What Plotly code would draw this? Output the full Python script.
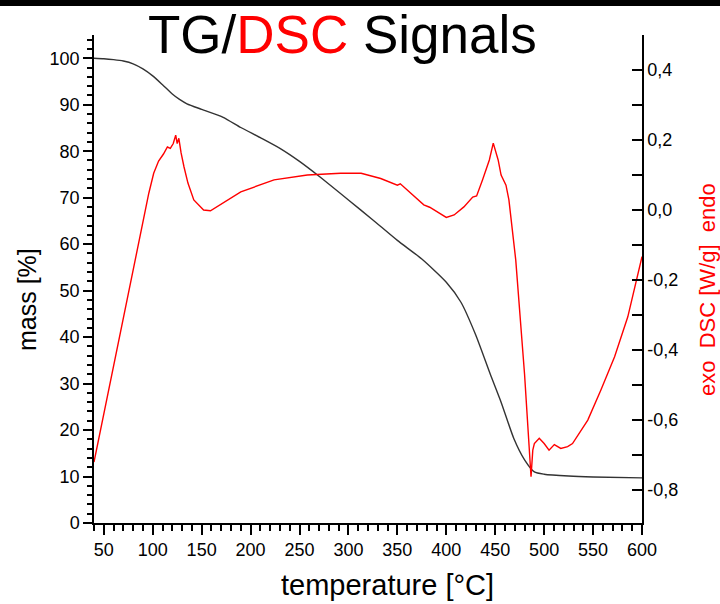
import plotly.graph_objects as go

# ---- data ----
tg_temp = [40, 50, 60, 70, 80, 90, 100, 110, 120, 127, 135, 150, 172, 190, 210, 230,
           250, 270, 300, 325, 350, 375, 400, 415, 430, 445, 456, 469, 480, 490, 500,
           525, 550, 600]
tg_mass = [100, 99.9, 99.7, 99.4, 98.8, 97.7, 96.2, 94.3, 92.3, 91.2, 90.2, 89.0, 87.3,
           85.1, 82.9, 80.6, 77.8, 74.6, 69.5, 65.2, 60.8, 56.8, 51.8, 47.5, 40.5, 32.0,
           26.0, 18.2, 13.6, 11.0, 10.5, 10.1, 9.9, 9.7]

dsc_temp = [40, 96, 101, 106, 111, 115, 118, 121, 123.5, 125, 126.7, 129, 132, 136, 142,
            152, 159, 173, 190, 224, 258, 292, 313, 333, 350, 353, 365, 377, 383, 395,
            400, 408, 418, 427, 431, 437, 444, 448, 453, 456, 461, 464, 471, 480, 485,
            486.6, 488.4, 490, 495, 500, 505, 510.4, 517, 524, 529, 536, 544.6, 558, 572,
            585.5, 600]
dsc_val = [-0.72, 0.048, 0.105, 0.14, 0.16, 0.18, 0.176, 0.19, 0.214, 0.19, 0.205, 0.163,
           0.123, 0.077, 0.029, 0.0, -0.002, 0.023, 0.052, 0.086, 0.1, 0.105, 0.105, 0.09,
           0.071, 0.075, 0.045, 0.015, 0.008, -0.014, -0.021, -0.014, 0.009, 0.037, 0.04,
           0.086, 0.143, 0.191, 0.143, 0.1, 0.071, 0.029, -0.143, -0.47, -0.69, -0.762,
           -0.686, -0.667, -0.652, -0.667, -0.686, -0.67, -0.681, -0.676, -0.667, -0.638,
           -0.6, -0.514, -0.419, -0.305, -0.133]

x_ticks = list(range(50, 601, 50))
y_ticks = list(range(0, 101, 10))
y2_ticks = [-0.8, -0.6, -0.4, -0.2, 0.0, 0.2, 0.4]
y2_labels = [f"{v:.1f}".replace(".", ",") for v in y2_ticks]

FONT = "Liberation Sans, Arial, sans-serif"

fig = go.Figure()
fig.add_trace(go.Scatter(x=tg_temp, y=tg_mass, mode="lines", line_shape="spline",
                         line=dict(color="#333333", width=1.4, smoothing=0.6), yaxis="y",
                         showlegend=False))
fig.add_trace(go.Scatter(x=dsc_temp, y=dsc_val, mode="lines",
                         line=dict(color="#ff0000", width=1.4), yaxis="y2",
                         showlegend=False))

L, R, T, B = 94, 78, 35, 81
W, H = 720, 604
pw, ph = W - L - R, H - T - B

def px(xp):
    return (xp - L) / pw

def py(yp):
    return (H - B - yp) / ph

fig.update_layout(
    width=W, height=H,
    margin=dict(l=L, r=R, t=T, b=B, pad=0),
    paper_bgcolor="white", plot_bgcolor="white",
    separators=",.",
    font=dict(family=FONT, size=18, color="black"),
    xaxis=dict(range=[40, 600], tickvals=x_ticks, ticks="outside", ticklen=10,
               tickwidth=1.5, tickcolor="black", showline=True, linecolor="black",
               linewidth=1.5, showgrid=False, zeroline=False,
               tickfont=dict(size=18, family=FONT),
               minor=dict(tick0=0, dtick=10, ticks="outside", ticklen=6,
                          tickwidth=1.5, tickcolor="black")),
    yaxis=dict(range=[0, 105], tickvals=y_ticks, ticks="outside", ticklen=9,
               tickwidth=1.5, tickcolor="black", showline=True, linecolor="black",
               linewidth=1.5, showgrid=False, zeroline=False,
               tickfont=dict(size=18, family=FONT),
               minor=dict(tick0=0, dtick=2, ticks="outside", ticklen=5,
                          tickwidth=1.5, tickcolor="black")),
    yaxis2=dict(range=[-0.894, 0.5], overlaying="y", side="right",
                tickvals=y2_ticks, ticktext=y2_labels, ticks="inside", ticklen=10,
                tickwidth=1.5, tickcolor="black", showline=True, linecolor="black",
                linewidth=1.5, showgrid=False, zeroline=False,
                tickfont=dict(size=18, family=FONT),
                minor=dict(tick0=0, dtick=0.1, ticks="inside", ticklen=10,
                           tickwidth=1.5, tickcolor="black")),
    shapes=[dict(type="rect", xref="paper", yref="paper",
                 x0=px(0), x1=px(W), y0=py(6), y1=py(-2),
                 fillcolor="black", line=dict(width=0))],
    annotations=[
        dict(text='TG/<span style="color:#ff0000">DSC</span> Signals',
             x=px(342), y=py(34), xref="paper", yref="paper",
             xanchor="center", yanchor="middle", showarrow=False,
             font=dict(size=53, family=FONT, color="black")),
        dict(text="mass [%]", textangle=-90, x=px(27), y=py(300),
             xref="paper", yref="paper", xanchor="center", yanchor="middle",
             showarrow=False, font=dict(size=25, family=FONT, color="black")),
        dict(text="temperature [°C]", x=px(387), y=py(585),
             xref="paper", yref="paper", xanchor="center", yanchor="middle",
             showarrow=False, font=dict(size=29, family=FONT, color="black")),
        dict(text="exo&nbsp;&nbsp;DSC [W/g]&nbsp;&nbsp;endo", textangle=-90,
             x=px(707), y=py(290), xref="paper", yref="paper",
             xanchor="center", yanchor="middle", showarrow=False,
             font=dict(size=22, family=FONT, color="#ff0000")),
    ],
)

fig.write_html("out.html")
